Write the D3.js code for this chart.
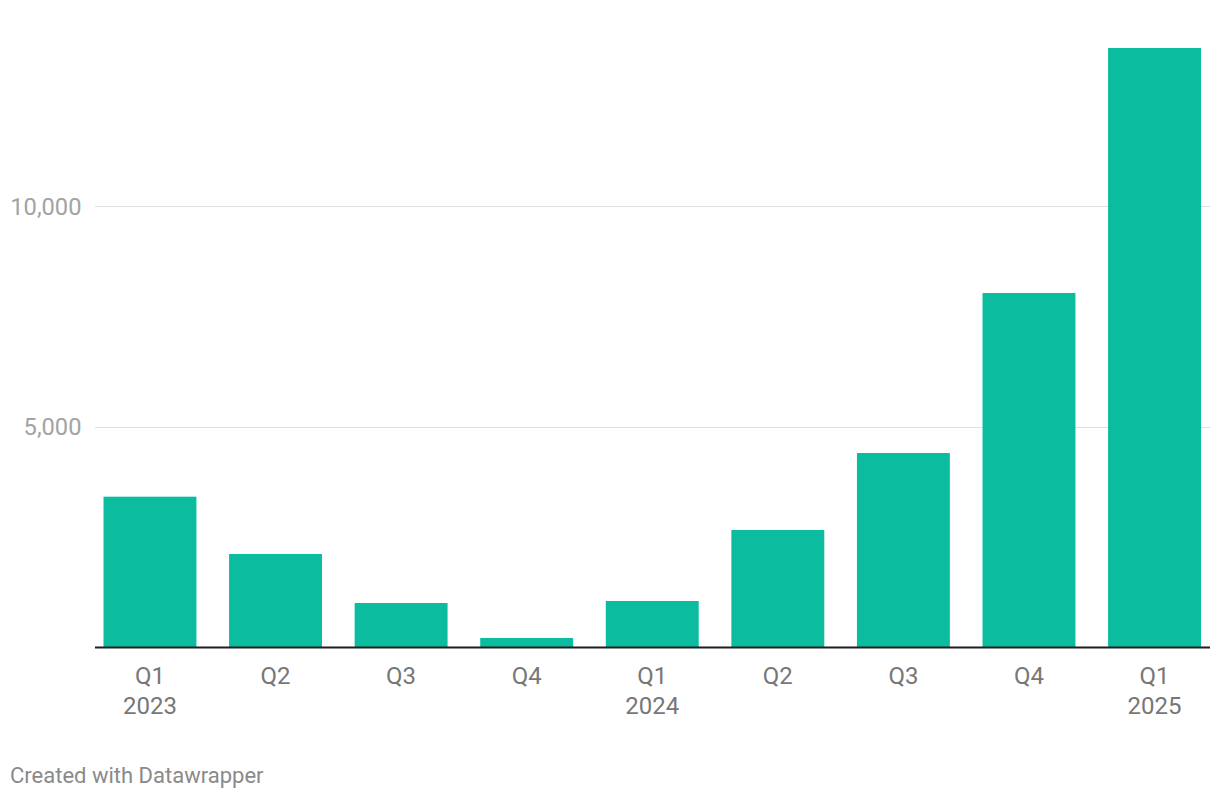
<!DOCTYPE html>
<html>
<head>
<meta charset="utf-8">
<script src="https://cdn.jsdelivr.net/npm/d3@7"></script>
<style>
  html, body { margin: 0; padding: 0; background: #fff; }
  svg { display: block; font-family: Roboto, "Noto Sans", sans-serif; }
</style>
</head>
<body>
<svg id="chart" width="1220" height="800"></svg>
<script>
const quarters = ["Q1", "Q2", "Q3", "Q4", "Q1", "Q2", "Q3", "Q4", "Q1"];
const years    = ["2023", "", "", "", "2024", "", "", "", "2025"];
const values   = [3416, 2118, 1008, 215, 1053, 2661, 4405, 8029, 13579];
const yTicks   = [5000, 10000];
const footer   = "Created with Datawrapper";

const svg = d3.select("#chart");
const ids = values.map((_, i) => i);

const x = d3.scaleBand().domain(ids).range([103.5, 1201]).paddingInner(0.26).paddingOuter(0);
const y = d3.scaleLinear().domain([0, 10000]).range([647.5, 206]);

// gridlines
const grid = svg.append("g");
grid.selectAll("line").data(yTicks).join("line")
  .attr("x1", 95).attr("x2", 1210)
  .attr("y1", d => Math.round(y(d)) + 0.5).attr("y2", d => Math.round(y(d)) + 0.5)
  .attr("stroke", "#e0e0e0").attr("stroke-width", 1);

grid.selectAll("text").data(yTicks).join("text")
  .attr("x", 81.5).attr("y", d => y(d) + 8.5)
  .attr("text-anchor", "end")
  .attr("font-size", 23.7).attr("fill", "#a3a3a3")
  .text(d => d3.format(",")(d));

// bars
svg.append("g").selectAll("rect").data(values).join("rect")
  .attr("x", (d, i) => x(i)).attr("width", x.bandwidth())
  .attr("y", d => y(d)).attr("height", d => y(0) - y(d))
  .attr("fill", "#0bbc9f");

// baseline
svg.append("line")
  .attr("x1", 95).attr("x2", 1210)
  .attr("y1", y(0)).attr("y2", y(0))
  .attr("stroke", "#1e1e1e").attr("stroke-width", 2);

// x labels
const xl = svg.append("g");
xl.selectAll("text.q").data(quarters).join("text").attr("class", "q")
  .attr("x", (d, i) => x(i) + x.bandwidth() / 2).attr("y", 684)
  .attr("text-anchor", "middle").attr("font-size", 24).attr("fill", "#777")
  .text(d => d);
xl.selectAll("text.yr").data(years).join("text").attr("class", "yr")
  .attr("x", (d, i) => x(i) + x.bandwidth() / 2).attr("y", 713.5)
  .attr("text-anchor", "middle").attr("font-size", 24).attr("fill", "#777")
  .text(d => d);

// footer
svg.append("text").attr("x", 10).attr("y", 783)
  .attr("font-size", 22).attr("fill", "#8a8a8a")
  .text(footer);
</script>
</body>
</html>
